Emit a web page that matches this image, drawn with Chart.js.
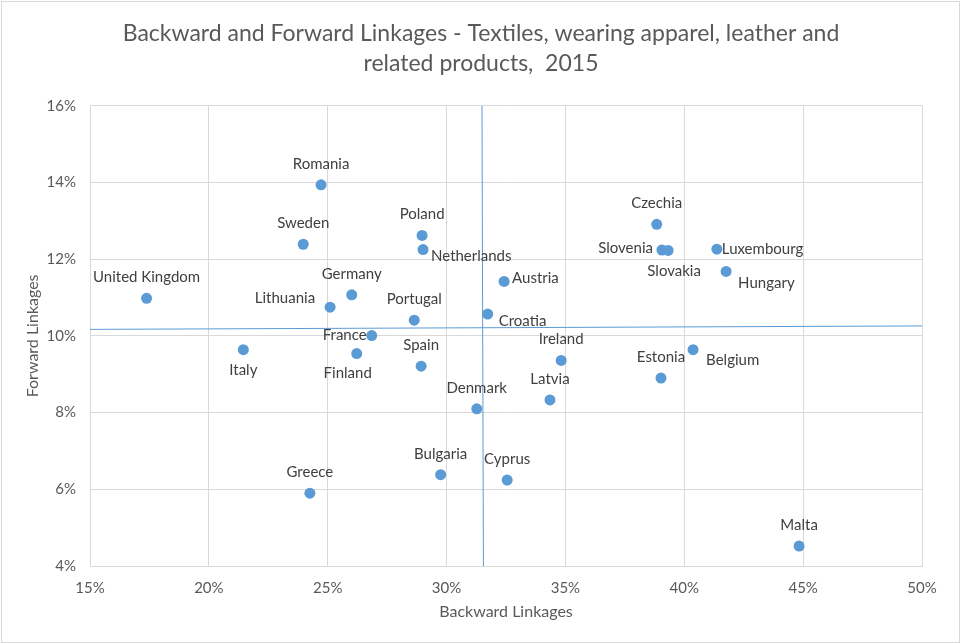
<!DOCTYPE html>
<html>
<head>
<meta charset="utf-8">
<title>Backward and Forward Linkages</title>
<script src="https://cdn.jsdelivr.net/npm/chart.js@4/dist/chart.umd.min.js"></script>
<style>
  html, body { margin: 0; padding: 0; background: #fff; }
  #wrap { position: relative; width: 961px; height: 644px; }
</style>
</head>
<body>
<div id="wrap"><canvas id="chart"></canvas></div>
<script>
// ── DATA ──────────────────────────────────────────────────────────────────────
const countries = [
  'Romania', 'Sweden', 'Poland', 'Netherlands', 'Czechia', 'Slovenia', 'Slovakia',
  'Luxembourg', 'Hungary', 'United Kingdom', 'Germany', 'Lithuania', 'Austria',
  'Portugal', 'Croatia', 'France', 'Italy', 'Finland', 'Spain', 'Ireland',
  'Belgium', 'Estonia', 'Latvia', 'Denmark', 'Bulgaria', 'Cyprus', 'Greece', 'Malta'
];
// backward linkages, % of output
const backward = [
  24.72, 23.97, 28.97, 29.01, 38.84, 39.06, 39.32,
  41.37, 41.76, 17.38, 26.01, 25.10, 32.42,
  28.64, 31.73, 26.85, 21.45, 26.22, 28.93, 34.82,
  40.37, 39.02, 34.35, 31.27, 29.75, 32.55, 24.25, 44.83
];
// forward linkages, % of output
const forward = [
  13.94, 12.39, 12.62, 12.25, 12.91, 12.24, 12.23,
  12.26, 11.68, 10.98, 11.07, 10.75, 11.42,
  10.41, 10.57, 10.01, 9.64, 9.54, 9.21, 9.36,
  9.64, 8.90, 8.33, 8.10, 6.38, 6.24, 5.90, 4.52
];
// average reference lines
const avgForwardX = [15, 50];
const avgForwardY = [10.17, 10.26];
const avgBackwardX = [31.49, 31.55];
const avgBackwardY = [16, 4];

const xTicks = [15, 20, 25, 30, 35, 40, 45, 50];
const yTicks = [4, 6, 8, 10, 12, 14, 16];

// label placement: [textAlign, dx, dy] relative to the point
const labelPlace = {
  'Slovenia':    ['right', -9, -2],
  'Slovakia':    ['center', 6, 21],
  'Luxembourg':  ['left', 5, 0],
  'Hungary':     ['left', 12, 12],
  'Netherlands': ['left', 8, 7],
  'Lithuania':   ['right', -15, -9],
  'Austria':     ['left', 8, -3],
  'Croatia':     ['left', 11, 7],
  'France':      ['right', -5, 0],
  'Italy':       ['center', 0, 20],
  'Finland':     ['center', -9, 20],
  'Belgium':     ['left', 13, 10]
};

const BLUE  = '#5b9bd5';
const GRID  = '#d9d9d9';
const TEXT  = '#595959';
const FONT  = "Lato, 'Open Sans', sans-serif";

// ── PLUGINS ───────────────────────────────────────────────────────────────────
const frame = {
  id: 'frame',
  beforeDraw(chart) {
    const ctx = chart.ctx;
    ctx.save();
    ctx.fillStyle = '#fff';
    ctx.fillRect(0, 0, chart.width, chart.height);
    ctx.strokeStyle = GRID;
    ctx.lineWidth = 1;
    ctx.strokeRect(1.5, 1.5, chart.width - 3, chart.height - 3);
    ctx.restore();
  }
};

const pointLabels = {
  id: 'pointLabels',
  afterDatasetsDraw(chart) {
    const meta = chart.getDatasetMeta(0);
    const ctx = chart.ctx;
    ctx.save();
    ctx.font = '15px ' + FONT;
    ctx.fillStyle = '#404040';
    ctx.textBaseline = 'middle';
    meta.data.forEach((pt, i) => {
      const name = countries[i];
      const [align, dx, dy] = labelPlace[name] || ['center', 0, -21];
      ctx.textAlign = align;
      ctx.fillText(name, pt.x + dx, pt.y + dy);
    });
    ctx.restore();
  }
};

// ── CHART ─────────────────────────────────────────────────────────────────────
const points = backward.map((b, i) => ({ x: b, y: forward[i] }));
const hLine  = avgForwardX.map((x, i) => ({ x, y: avgForwardY[i] }));
const vLine  = avgBackwardX.map((x, i) => ({ x, y: avgBackwardY[i] }));

new Chart(document.getElementById('chart'), {
  type: 'scatter',
  data: {
    datasets: [
      {
        data: points,
        backgroundColor: BLUE,
        borderWidth: 0,
        pointRadius: 5.5,
        pointHoverRadius: 5.5
      },
      {
        data: hLine,
        showLine: true,
        borderColor: BLUE,
        borderWidth: 1,
        pointRadius: 0
      },
      {
        data: vLine,
        showLine: true,
        borderColor: BLUE,
        borderWidth: 1,
        pointRadius: 0
      }
    ]
  },
  options: {
    responsive: true,
    maintainAspectRatio: false,
    animation: false,
    // left/right padding balanced so the title centres on the page
    layout: { padding: { left: 40, right: 39, top: 0, bottom: 0 } },
    plugins: {
      legend: { display: false },
      tooltip: { enabled: false },
      title: {
        display: true,
        text: ['Backward and Forward Linkages - Textiles, wearing apparel, leather and',
               'related products,  2015'],
        color: TEXT,
        font: { family: FONT, size: 23, weight: 'normal', lineHeight: 1.3 },
        padding: { top: 19, bottom: 27 }
      }
    },
    scales: {
      x: {
        type: 'linear',
        min: 15,
        max: 50,
        afterBuildTicks: s => { s.ticks = xTicks.map(v => ({ value: v })); },
        afterFit: s => { s.height = 78; },
        grid: { color: GRID, drawTicks: false },
        border: { color: GRID },
        ticks: {
          color: TEXT,
          padding: 13,
          font: { family: FONT, size: 15 },
          callback: v => v + '%'
        },
        title: {
          display: true,
          text: 'Backward Linkages',
          color: TEXT,
          font: { family: FONT, size: 16 },
          padding: { top: 0, bottom: 23 }
        }
      },
      y: {
        type: 'linear',
        min: 4,
        max: 16,
        afterBuildTicks: s => { s.ticks = yTicks.map(v => ({ value: v })); },
        afterFit: s => { s.width = 50; },
        grid: { color: GRID, drawTicks: false },
        border: { color: GRID },
        ticks: {
          color: TEXT,
          padding: 14,
          font: { family: FONT, size: 15 },
          callback: v => v + '%'
        },
        title: {
          display: true,
          text: 'Forward Linkages',
          color: TEXT,
          font: { family: FONT, size: 16 },
          padding: { top: -17, bottom: 0 }
        }
      }
    }
  },
  plugins: [frame, pointLabels]
});
</script>
</body>
</html>
